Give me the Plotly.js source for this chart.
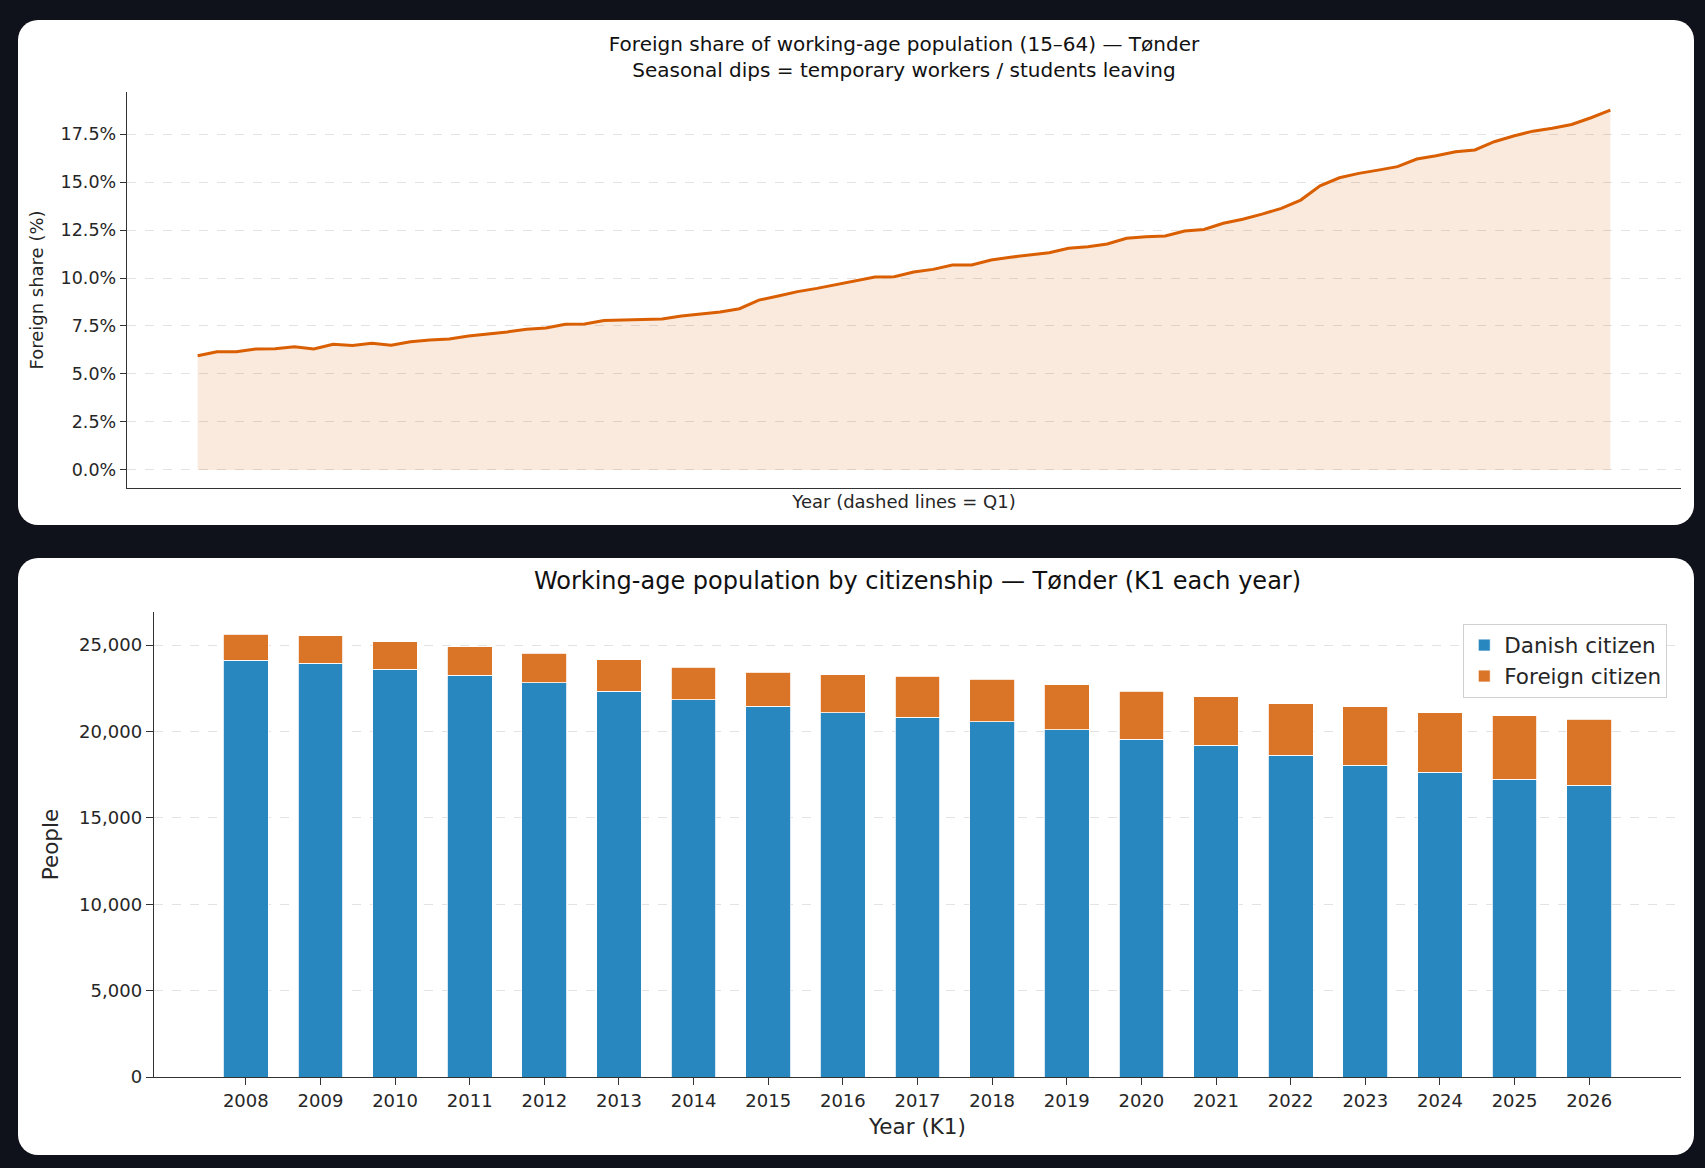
<!DOCTYPE html>
<html>
<head>
<meta charset="utf-8">
<title>Tønder – foreign share of working-age population</title>
<script src="https://cdn.plot.ly/plotly-3.0.1.min.js"></script>
<style>
    * { box-sizing: border-box; margin: 0; padding: 0; }
    body {
        width: 1705px;
        height: 1168px;
        background: #0f121a;
        position: relative;
        overflow: hidden;
        font-family: "DejaVu Sans", sans-serif;
    }
    .card {
        position: absolute;
        left: 18px;
        width: 1676px;
        background: #ffffff;
        border-radius: 20px;
        overflow: hidden;
    }
    #share { top: 20px; height: 505px; }
    #people { top: 558px; height: 597px; }
</style>
</head>
<body>
<div class="card" id="share"></div>
<div class="card" id="people"></div>

<script>
// foreign share (%) of 15-64 year olds, quarterly, 2008K1 .. 2026K2
const shareStartYear = 2008;
const foreignShare = [
    5.95, 6.16, 6.16, 6.30, 6.32, 6.42, 6.30, 6.55, 6.48, 6.60,
    6.50, 6.68, 6.77, 6.82, 6.98, 7.08, 7.19, 7.33, 7.40, 7.59,
    7.60, 7.78, 7.81, 7.81, 7.86, 8.02, 8.11, 8.23, 8.40, 8.85,
    9.06, 9.29, 9.46, 9.67, 9.84, 10.05, 10.07, 10.31, 10.45, 10.68,
    10.68, 10.94, 11.08, 11.20, 11.32, 11.55, 11.63, 11.77, 12.07, 12.15,
    12.19, 12.45, 12.53, 12.85, 13.06, 13.33, 13.63, 14.06, 14.80, 15.22,
    15.45, 15.62, 15.80, 16.20, 16.37, 16.58, 16.67, 17.10, 17.40, 17.65,
    17.80, 18.00, 18.35, 18.75
];
const shareTicks = [0, 2.5, 5, 7.5, 10, 12.5, 15, 17.5];

// K1 each year
const years = [2008, 2009, 2010, 2011, 2012, 2013, 2014, 2015, 2016, 2017,
               2018, 2019, 2020, 2021, 2022, 2023, 2024, 2025, 2026];
const danish = [24130, 23960, 23610, 23260, 22820, 22320, 21850, 21450, 21080, 20830,
                20560, 20100, 19560, 19210, 18630, 18050, 17650, 17230, 16880];
const foreign = [1510, 1580, 1600, 1660, 1700, 1830, 1880, 1970, 2200, 2380,
                 2470, 2620, 2760, 2800, 2970, 3380, 3450, 3680, 3820];
const peopleTicks = [0, 5000, 10000, 15000, 20000, 25000];

const FONT = 'DejaVu Sans, sans-serif';
const INK = '#262626';
const GRID = '#e3e3e3';

// quarter labels for the category axis
let quarters = [];
for (let i = 0; i < foreignShare.length; i++) {
    quarters.push((shareStartYear + Math.floor(i / 4)) + 'K' + (i % 4 + 1));
}

let shareTrace = {
    x: quarters,
    y: foreignShare,
    type: 'scatter',
    mode: 'lines',
    fill: 'tozeroy',
    fillcolor: 'rgba(217, 95, 2, 0.13)',
    line: { color: '#d95f02', width: 3 },
    hoverinfo: 'x+y',
    showlegend: false
};

let shareLayout = {
    width: 1676,
    height: 505,
    paper_bgcolor: 'rgba(0,0,0,0)',
    plot_bgcolor: 'rgba(0,0,0,0)',
    margin: { l: 109, r: 13, t: 72, b: 37 },
    font: { family: FONT, color: INK },
    title: {
        text: 'Foreign share of working-age population (15–64) — Tønder<br>Seasonal dips = temporary workers / students leaving',
        font: { family: FONT, size: 20, color: '#111' },
        x: 0.5, xref: 'paper', xanchor: 'center',
        y: 1 - 31 / 505, yref: 'container', yanchor: 'top'
    },
    xaxis: {
        type: 'category',
        range: [-3.65, foreignShare.length - 1 + 3.65],
        showticklabels: false,
        ticks: '',
        showgrid: false,
        zeroline: false,
        showline: true,
        linecolor: '#333',
        linewidth: 1.3,
        title: {
            text: 'Year (dashed lines = Q1)',
            font: { family: FONT, size: 18, color: INK },
            standoff: 7
        }
    },
    yaxis: {
        range: [-0.94, 19.69],
        tickvals: shareTicks,
        ticktext: shareTicks.map(v => v.toFixed(1) + '%'),
        tickfont: { family: FONT, size: 17.5, color: INK },
        ticks: 'outside',
        ticklen: 6,
        tickcolor: '#333',
        showline: true,
        linecolor: '#333',
        linewidth: 1.3,
        zeroline: false,
        showgrid: true,
        gridcolor: GRID,
        griddash: 'dash',
        gridwidth: 1,
        title: {
            text: 'Foreign share (%)',
            font: { family: FONT, size: 18, color: INK },
            standoff: 12
        }
    }
};

let danishTrace = {
    x: years,
    y: danish,
    name: 'Danish citizen',
    type: 'bar',
    width: 0.6,
    marker: { color: '#2887bf', line: { color: '#ffffff', width: 0.8 } }
};
let foreignTrace = {
    x: years,
    y: foreign,
    name: 'Foreign citizen',
    type: 'bar',
    width: 0.6,
    marker: { color: '#da7528', line: { color: '#ffffff', width: 0.8 } }
};

let peopleLayout = {
    width: 1676,
    height: 597,
    paper_bgcolor: 'rgba(0,0,0,0)',
    plot_bgcolor: 'rgba(0,0,0,0)',
    barmode: 'stack',
    margin: { l: 136, r: 13, t: 54, b: 78 },
    font: { family: FONT, color: INK },
    title: {
        text: 'Working-age population by citizenship — Tønder (K1 each year)',
        font: { family: FONT, size: 24, color: '#111' },
        x: 0.5, xref: 'paper', xanchor: 'center',
        y: 1 - 14 / 597, yref: 'container', yanchor: 'top'
    },
    legend: {
        x: 0.991, xanchor: 'right',
        y: 0.975, yanchor: 'top',
        bgcolor: 'rgba(255,255,255,0.9)',
        bordercolor: '#d0d0d0',
        borderwidth: 1,
        font: { family: FONT, size: 21.5, color: INK },
        traceorder: 'normal'
    },
    xaxis: {
        range: [2006.77, 2027.23],
        tickvals: years,
        ticktext: years.map(String),
        tickfont: { family: FONT, size: 18, color: INK },
        ticks: 'outside',
        ticklen: 7,
        tickcolor: '#333',
        showline: true,
        linecolor: '#333',
        linewidth: 1.3,
        showgrid: false,
        zeroline: false,
        title: {
            text: 'Year (K1)',
            font: { family: FONT, size: 21.5, color: INK },
            standoff: 9
        }
    },
    yaxis: {
        range: [0, 26920],
        tickvals: peopleTicks,
        ticktext: peopleTicks.map(v => v.toLocaleString('en-US')),
        tickfont: { family: FONT, size: 18, color: INK },
        ticks: 'outside',
        ticklen: 7,
        tickcolor: '#333',
        showline: true,
        linecolor: '#333',
        linewidth: 1.3,
        zeroline: false,
        showgrid: true,
        gridcolor: GRID,
        griddash: 'dash',
        gridwidth: 1,
        title: {
            text: 'People',
            font: { family: FONT, size: 21.5, color: INK },
            standoff: 14
        }
    }
};

Plotly.newPlot('share', [shareTrace], shareLayout, { displayModeBar: false, staticPlot: true });
Plotly.newPlot('people', [danishTrace, foreignTrace], peopleLayout, { displayModeBar: false, staticPlot: true });
</script>
</body>
</html>
